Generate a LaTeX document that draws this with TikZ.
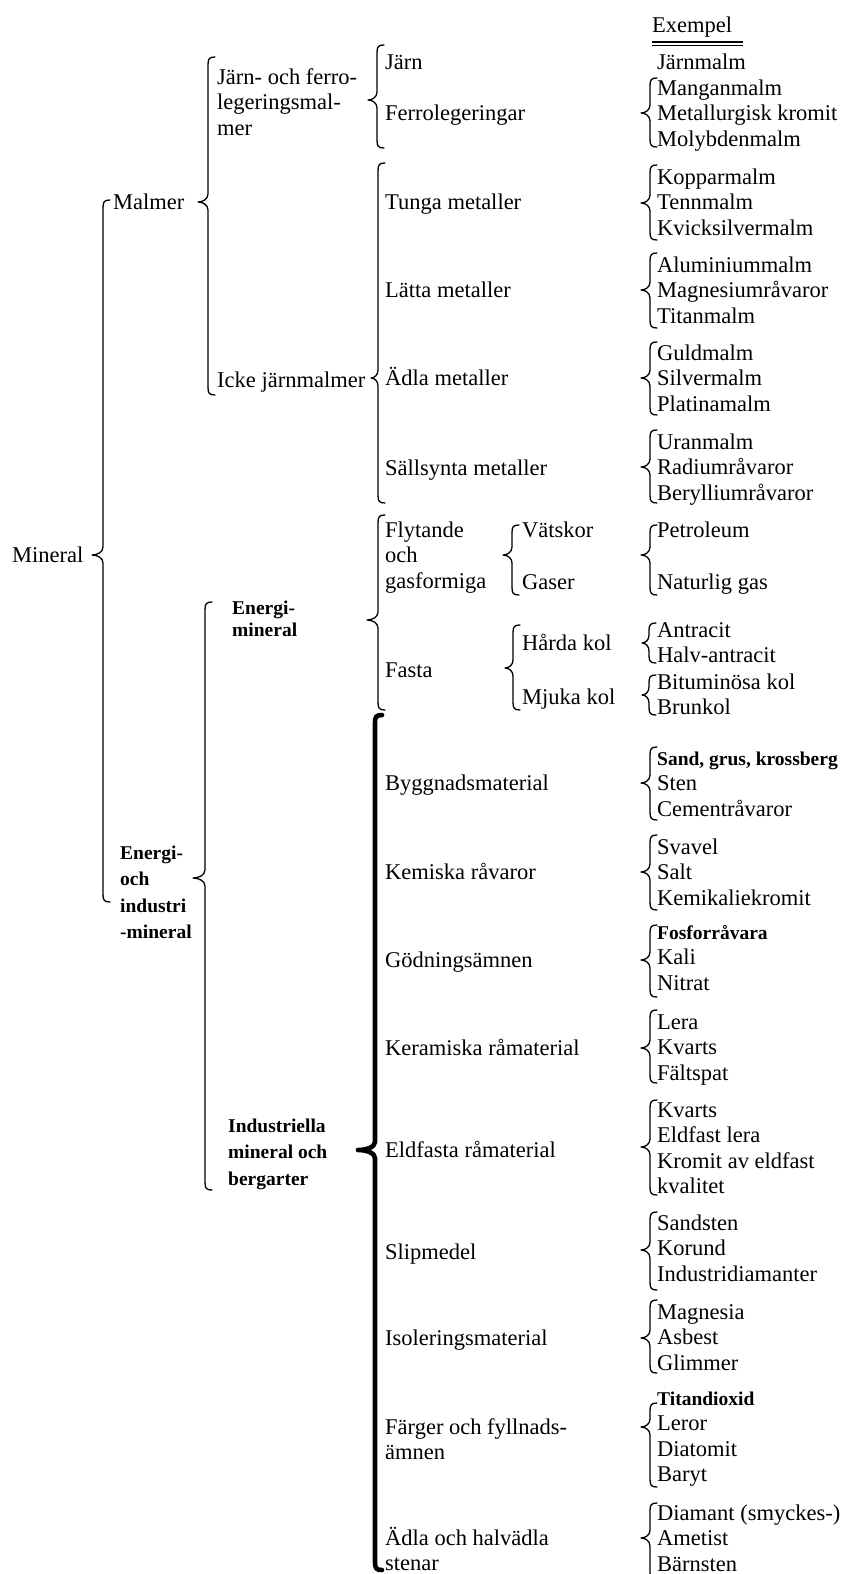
\documentclass[tikz,border=0pt]{standalone}
\usepackage{fontspec}
\setmainfont{Liberation Serif}
\newcommand\rgf{\fontsize{22.5}{25.5}\selectfont}
\newcommand\bdf{\fontsize{19.5}{26.5}\selectfont\bfseries}
\tikzset{
  txt/.style={anchor=north west, inner sep=0pt, align=left, font=\rgf, yshift=11pt},
  btxt/.style={anchor=north west, inner sep=0pt, align=left, font=\bdf, yshift=11.7pt},
  brc/.style={line width=1.3pt, line cap=round, line join=round},
  tbrc/.style={line width=4.6pt, line cap=round, line join=round},
}
% #2 = x of vertical, #3 = top y, #4 = tip y, #5 = bottom y (image coords, downwards), #6 tip depth
\newcommand\cbr[6][brc]{%
  \draw[#1] ({#2+7},{-(#3)}) .. controls ({#2+1},{-(#3)}) and ({#2},{-(#3)-2}) .. ({#2},{-(#3)-8})
    -- ({#2},{-(#4)+8}) .. controls ({#2},{-(#4)+3}) and ({#2-#6/2},{-(#4)}) .. ({#2-#6},{-(#4)})
    .. controls ({#2-#6/2},{-(#4)}) and ({#2},{-(#4)-3}) .. ({#2},{-(#4)-8})
    -- ({#2},{-(#5)+8}) .. controls ({#2},{-(#5)+2}) and ({#2+1},{-(#5)}) .. ({#2+7},{-(#5)});}
\begin{document}
\begin{tikzpicture}[x=1pt,y=1pt]
\useasboundingbox (0,0) rectangle (846,-1574);
\fill[white] (0,0) rectangle (846,-1574);

% ---- level 0 / 1
\node[txt] (mineral) at (12,-555) {\strut Mineral};
\node[txt] (malmer) at (113,-202) {\strut Malmer};
\node[btxt] (eoi) at (120,-852) {\strut Energi-\\och\\industri\\-mineral};

% ---- level 2
\node[txt] (jof) at (217,-77) {\strut Järn- och ferro-\\legeringsmal-\\mer};
\node[txt] (icke) at (217,-380) {\strut Icke järnmalmer};
\node[btxt, font={\fontsize{19.5}{22.5}\selectfont\bfseries}] (em) at (232,-610) {\strut Energi-\\mineral};
\node[btxt] (ind) at (228,-1125) {\strut Industriella\\mineral och\\bergarter};

% ---- level 3
\node[txt] (jarn) at (385,-62) {\strut Järn};
\node[txt] (ferro) at (385,-113) {\strut Ferrolegeringar};
\node[txt] (tunga) at (385,-202) {\strut Tunga metaller};
\node[txt] (latta) at (385,-290) {\strut Lätta metaller};
\node[txt] (adla) at (385,-378) {\strut Ädla metaller};
\node[txt] (sall) at (385,-468) {\strut Sällsynta metaller};
\node[txt] (flyt) at (385,-530) {\strut Flytande\\och\\gasformiga};
\node[txt] (fasta) at (385,-670) {\strut Fasta};
\node[txt] (bygg) at (385,-783) {\strut Byggnadsmaterial};
\node[txt] (kem) at (385,-872) {\strut Kemiska råvaror};
\node[txt] (godn) at (385,-960) {\strut Gödningsämnen};
\node[txt] (ker) at (385,-1048) {\strut Keramiska råmaterial};
\node[txt] (eld) at (385,-1150) {\strut Eldfasta råmaterial};
\node[txt] (slip) at (385,-1252) {\strut Slipmedel};
\node[txt] (isol) at (385,-1338) {\strut Isoleringsmaterial};
\node[txt] (farg) at (385,-1427) {\strut Färger och fyllnads-\\ämnen};
\node[txt] (sten) at (385,-1538) {\strut Ädla och halvädla\\stenar};

% ---- level 4
\node[txt] (vats) at (522,-530) {\strut Vätskor};
\node[txt] (gaser) at (522,-582) {\strut Gaser};
\node[txt] (harda) at (522,-643) {\strut Hårda kol};
\node[txt] (mjuka) at (522,-697) {\strut Mjuka kol};

% ---- examples
\node[txt] (ex) at (652,-25) {\strut Exempel};
\draw[line width=1.5pt] ([yshift=-2.3pt]ex.south west) -- ++(91,0);
\draw[line width=1.5pt] ([yshift=-5.6pt]ex.south west) -- ++(91,0);
\node[txt] (e1) at (657,-62) {\strut Järnmalm};
\node[txt] (e2) at (657,-88) {\strut Manganmalm\\Metallurgisk kromit\\Molybdenmalm};
\node[txt] (e3) at (657,-177) {\strut Kopparmalm\\Tennmalm\\Kvicksilvermalm};
\node[txt] (e4) at (657,-265) {\strut Aluminiummalm\\Magnesiumråvaror\\Titanmalm};
\node[txt] (e5) at (657,-353) {\strut Guldmalm\\Silvermalm\\Platinamalm};
\node[txt] (e6) at (657,-442) {\strut Uranmalm\\Radiumråvaror\\Berylliumråvaror};
\node[txt] (e7) at (657,-530) {\strut Petroleum};
\node[txt] (e8) at (657,-582) {\strut Naturlig gas};
\node[txt] (e9) at (657,-630) {\strut Antracit\\Halv-antracit};
\node[txt] (e10) at (657,-682) {\strut Bituminösa kol\\Brunkol};
\node[txt] (e11) at (657,-758) {\strut{\bdf Sand, grus, krossberg}\\Sten\\Cementråvaror};
\node[txt] (e12) at (657,-847) {\strut Svavel\\Salt\\Kemikaliekromit};
\node[txt] (e13) at (657,-932) {\strut{\bdf Fosforråvara}\\Kali\\Nitrat};
\node[txt] (e14) at (657,-1022) {\strut Lera\\Kvarts\\Fältspat};
\node[txt] (e15) at (657,-1110) {\strut Kvarts\\Eldfast lera\\Kromit av eldfast\\kvalitet};
\node[txt] (e16) at (657,-1223) {\strut Sandsten\\Korund\\Industridiamanter};
\node[txt] (e17) at (657,-1312) {\strut Magnesia\\Asbest\\Glimmer};
\node[txt] (e18) at (657,-1398) {\strut{\bdf Titandioxid}\\Leror\\Diatomit\\Baryt};
\node[txt] (e19) at (657,-1513) {\strut Diamant (smyckes-)\\Ametist\\Bärnsten};

% ---- braces
\cbr{103}{200}{555}{902}{11}
\cbr{208}{57}{202}{395}{10}
\cbr{205}{602}{878}{1190}{12}
\cbr{377}{45}{100}{148}{9}
\cbr{378}{163}{378}{503}{7}
\cbr{378}{515}{620}{710}{11}
\cbr[tbrc]{375}{715}{1150}{1570}{17}
\cbr{512}{525}{555}{595}{9}
\cbr{513}{625}{668}{710}{8}
% example braces
\cbr{650}{78}{113}{147}{9}
\cbr{650}{165}{203}{240}{9}
\cbr{650}{253}{290}{328}{9}
\cbr{650}{342}{378}{415}{9}
\cbr{650}{430}{467}{503}{9}
\cbr{650}{525}{555}{595}{9}
\cbr{649}{623}{643}{663}{7}
\cbr{649}{675}{695}{715}{7}
\cbr{650}{747}{783}{820}{9}
\cbr{650}{835}{872}{910}{9}
\cbr{650}{925}{960}{997}{9}
\cbr{650}{1010}{1048}{1083}{9}
\cbr{650}{1100}{1147}{1195}{9}
\cbr{650}{1212}{1250}{1290}{9}
\cbr{650}{1300}{1338}{1373}{9}
\cbr{650}{1403}{1427}{1487}{9}
\cbr{650}{1503}{1538}{1580}{9}
\end{tikzpicture}
\end{document}
